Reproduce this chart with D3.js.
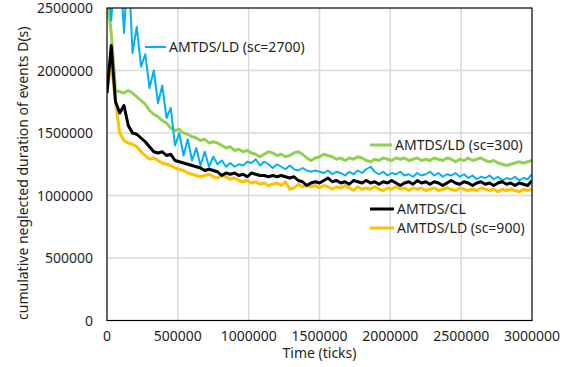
<!DOCTYPE html>
<html>
<head>
<meta charset="utf-8">
<script src="https://cdn.jsdelivr.net/npm/d3@7"></script>
<style>
  body { margin: 0; background: #fff; }
  svg text { font-family: "Noto Sans", "Open Sans", sans-serif; fill: #231f20; }
</style>
</head>
<body>
<div id="chart"></div>
<script>
const width = 570, height = 367;
const margin = { top: 8, right: 38, bottom: 46.5, left: 107 };

// time axis: one sample every 30000 ticks
const times = d3.range(0, 3000001, 30000);
const xTicks = [0, 500000, 1000000, 1500000, 2000000, 2500000, 3000000];
const yTicks = [0, 500000, 1000000, 1500000, 2000000, 2500000];

// values in thousands
const sc300 = [2600, 2300, 1840, 1830, 1820, 1840, 1820, 1790, 1760, 1730,
  1680, 1650, 1630, 1600, 1580, 1540, 1520, 1530, 1500, 1490,
  1470, 1460, 1440, 1450, 1420, 1430, 1420, 1400, 1380, 1390,
  1360, 1370, 1350, 1360, 1340, 1330, 1310, 1330, 1350, 1340,
  1320, 1330, 1310, 1320, 1340, 1350, 1330, 1300, 1280, 1300,
  1310, 1330, 1320, 1310, 1290, 1300, 1280, 1300, 1290, 1310,
  1300, 1280, 1270, 1290, 1280, 1300, 1290, 1280, 1300, 1290,
  1300, 1280, 1290, 1300, 1280, 1290, 1280, 1300, 1290, 1280,
  1300, 1290, 1270, 1290, 1280, 1300, 1280, 1290, 1300, 1280,
  1270, 1280, 1260, 1250, 1240, 1250, 1260, 1270, 1260, 1270, 1280];

const sc2700 = [2900, 2400, 2900, 2900, 2300, 2900, 2140, 2350, 2030, 2130,
  1860, 2000, 1740, 1880, 1620, 1700, 1400, 1500, 1320, 1450,
  1280, 1380, 1240, 1350, 1230, 1310, 1250, 1280, 1230, 1260,
  1230, 1250, 1240, 1270, 1260, 1290, 1240, 1270, 1250, 1220,
  1250, 1230, 1210, 1240, 1210, 1200, 1220, 1200, 1190, 1200,
  1190, 1180, 1200, 1170, 1190, 1180, 1160, 1190, 1170, 1200,
  1180, 1210, 1230, 1190, 1170, 1190, 1160, 1180, 1170, 1190,
  1160, 1170, 1150, 1180, 1160, 1170, 1190, 1160, 1180, 1150,
  1170, 1160, 1180, 1150, 1170, 1140, 1160, 1130, 1150, 1140,
  1160, 1130, 1150, 1120, 1140, 1130, 1150, 1120, 1140, 1130, 1170];

const cl = [1820, 2200, 1750, 1660, 1720, 1560, 1500, 1490, 1460, 1430,
  1390, 1350, 1340, 1350, 1320, 1330, 1280, 1270, 1260, 1250,
  1240, 1230, 1220, 1200, 1210, 1200, 1190, 1160, 1180, 1170,
  1180, 1160, 1170, 1150, 1180, 1170, 1160, 1160, 1150, 1160,
  1150, 1160, 1150, 1140, 1150, 1120, 1110, 1080, 1100, 1110,
  1100, 1120, 1140, 1110, 1120, 1100, 1110, 1090, 1120, 1110,
  1100, 1120, 1100, 1110, 1090, 1110, 1100, 1120, 1100, 1080,
  1100, 1110, 1090, 1120, 1100, 1110, 1090, 1110, 1100, 1080,
  1100, 1120, 1100, 1090, 1110, 1100, 1080, 1100, 1110, 1090,
  1100, 1080, 1100, 1110, 1090, 1100, 1080, 1100, 1090, 1080, 1120];

const sc900 = [1850, 2050, 1750, 1500, 1440, 1420, 1410, 1390, 1350, 1320,
  1290, 1300, 1280, 1260, 1250, 1240, 1220, 1210, 1200, 1180,
  1170, 1160, 1150, 1160, 1170, 1150, 1140, 1160, 1150, 1130,
  1140, 1120, 1110, 1120, 1100, 1110, 1090, 1100, 1080, 1090,
  1100, 1080, 1110, 1050, 1060, 1090, 1070, 1080, 1070, 1080,
  1060, 1080, 1070, 1050, 1070, 1060, 1080, 1060, 1040, 1070,
  1050, 1060, 1050, 1070, 1050, 1040, 1060, 1050, 1070, 1050,
  1060, 1040, 1060, 1050, 1060, 1040, 1050, 1060, 1040, 1050,
  1060, 1050, 1040, 1060, 1050, 1040, 1050, 1040, 1060, 1050,
  1040, 1050, 1030, 1050, 1040, 1050, 1040, 1030, 1050, 1040, 1050];

const seriesNames = ["AMTDS/LD (sc=300)", "AMTDS/LD (sc=2700)", "AMTDS/LD (sc=900)", "AMTDS/CL"];
const seriesValues = [sc300, sc2700, sc900, cl];
const seriesColors = ["#92d050", "#00b0f0", "#ffc000", "#000000"];
const seriesWidths = [3, 2, 3, 3];

const svg = d3.select("#chart").append("svg").attr("width", width).attr("height", height);

const x = d3.scaleLinear().domain([0, 3000000]).range([margin.left, width - margin.right]);
const y = d3.scaleLinear().domain([0, 2500000]).range([height - margin.bottom, margin.top]);

// grid
svg.append("g").selectAll("line").data(xTicks.slice(1, -1)).enter().append("line")
    .attr("x1", d => x(d)).attr("x2", d => x(d))
    .attr("y1", y(0)).attr("y2", y(2500000))
    .attr("stroke", "#d9d9d9").attr("stroke-width", 1.5);
svg.append("g").selectAll("line").data(yTicks.slice(1, -1)).enter().append("line")
    .attr("x1", x(0)).attr("x2", x(3000000))
    .attr("y1", d => y(d)).attr("y2", d => y(d))
    .attr("stroke", "#d9d9d9").attr("stroke-width", 1.5);

// tick labels
svg.append("g").selectAll("text").data(xTicks).enter().append("text")
    .attr("x", d => x(d)).attr("y", height - margin.bottom + 20)
    .attr("text-anchor", "middle").style("font-size", "14px")
    .text(d => d);
svg.append("g").selectAll("text").data(yTicks).enter().append("text")
    .attr("x", margin.left - 14).attr("y", d => y(d) + 5)
    .attr("text-anchor", "end").style("font-size", "14px")
    .text(d => d);

// axis titles
svg.append("text")
    .attr("x", (x(0) + x(3000000)) / 2).attr("y", height - 9)
    .attr("text-anchor", "middle").style("font-size", "14px")
    .text("Time (ticks)");
svg.append("text")
    .attr("transform", `translate(28, ${(y(0) + y(2500000)) / 2 + 9}) rotate(-90)`)
    .attr("text-anchor", "middle").style("font-size", "14px")
    .text("cumulative neglected duration of events D(s)");

// lines, clipped to the plot area
svg.append("defs").append("clipPath").attr("id", "plot-clip")
    .append("rect")
    .attr("x", x(0)).attr("y", y(2500000))
    .attr("width", x(3000000) - x(0)).attr("height", y(0) - y(2500000));

const line = d3.line()
    .x((d, i) => x(times[i]))
    .y(d => y(d * 1000));

svg.append("g").attr("clip-path", "url(#plot-clip)")
    .selectAll("path").data(seriesValues).enter().append("path")
    .attr("d", line)
    .attr("fill", "none")
    .attr("stroke", (d, i) => seriesColors[i])
    .attr("stroke-width", (d, i) => seriesWidths[i])
    .attr("stroke-linejoin", "round");

// frame
svg.append("rect")
    .attr("x", x(0)).attr("y", y(2500000))
    .attr("width", x(3000000) - x(0)).attr("height", y(0) - y(2500000))
    .attr("fill", "none").attr("stroke", "#000").attr("stroke-width", 1.2);

// inline legend
const legendItems = [
    { name: seriesNames[1], color: seriesColors[1], w: 2, x0: 145, x1: 166, y: 47 },
    { name: seriesNames[0], color: seriesColors[0], w: 3, x0: 370, x1: 392, y: 145 },
    { name: seriesNames[3], color: seriesColors[3], w: 3, x0: 370, x1: 394, y: 209 },
    { name: seriesNames[2], color: seriesColors[2], w: 3, x0: 370, x1: 394, y: 228 }
];
const leg = svg.append("g").selectAll("g").data(legendItems).enter().append("g");
leg.append("line")
    .attr("x1", d => d.x0).attr("x2", d => d.x1)
    .attr("y1", d => d.y).attr("y2", d => d.y)
    .attr("stroke", d => d.color).attr("stroke-width", d => d.w);
leg.append("text")
    .attr("x", d => d.x1 + 3).attr("y", d => d.y + 5)
    .style("font-size", "14px")
    .text(d => d.name);
</script>
</body>
</html>
